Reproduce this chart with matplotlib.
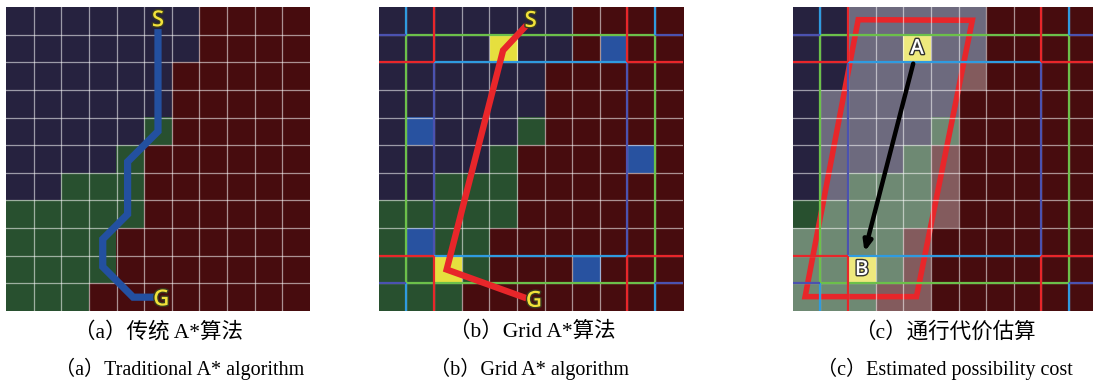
import numpy as np
import matplotlib.pyplot as plt
import matplotlib.patheffects as pe
from matplotlib.colors import to_rgb
from matplotlib.patches import Polygon, Rectangle

# cell maps, one string per row (top to bottom)
# n = free/low cost, r = obstacle, g = mid cost, b = jump point, y = start/end node
map_a = ["nnnnnnnrrrr",
         "nnnnnnnrrrr",
         "nnnnnnrrrrr",
         "nnnnnnrrrrr",
         "nnnnngrrrrr",
         "nnnngrrrrrr",
         "nngggrrrrrr",
         "gggggrrrrrr",
         "ggggrrrrrrr",
         "ggggrrrrrrr",
         "gggrrrrrrrr"]

map_b = ["nnnnnnnrrrr",
         "nnnnynnrbrr",
         "nnnnnnrrrrr",
         "nnnnnnrrrrr",
         "nbnnngrrrrr",
         "nnnngrrrrbr",
         "nngggrrrrrr",
         "gggggrrrrrr",
         "gbggrrrrrrr",
         "ggygrrrbrrr",
         "gggrrrrrrrr"]

map_c = ["nnnnnnnrrrr",
         "nnnnynnrrrr",
         "nnnnnnrrrrr",
         "nnnnnnrrrrr",
         "nnnnngrrrrr",
         "nnnngrrrrrr",
         "nngggrrrrrr",
         "gggggrrrrrr",
         "ggggrrrrrrr",
         "ggygrrrrrrr",
         "gggrrrrrrrr"]

# estimated-cost band in (c): (first row, last row, first col, last col)
band_rows = [(0, 2, 2, 6), (3, 7, 1, 5), (8, 10, 0, 4)]

# paths (x = column, y = row, in cell units)
path_a_x = [5.5, 5.5, 4.4, 4.4, 3.5, 3.5, 4.6, 5.4]
path_a_y = [0.8, 4.5, 5.6, 7.5, 8.4, 9.4, 10.5, 10.5]
path_b_x = [5.35, 4.5, 2.46, 5.35]
path_b_y = [0.66, 1.57, 9.5, 10.54]
para_x = [2.37, 6.5, 4.48, 0.45]
para_y = [0.46, 0.48, 10.48, 10.48]
arrow_from = (4.36, 2.05)
arrow_to = (2.6, 8.86)

cell_colors = {"n": "#26223f", "r": "#470c0e", "g": "#28502f",
               "b": "#2852a0", "y": "#e6df3e"}

captions_cn = ["（a）传统 A*算法", "（b）Grid A*算法", "（c）通行代价估算"]
captions_en = ["（a）Traditional A* algorithm", "（b）Grid A* algorithm",
               "（c）Estimated possibility cost"]

W, H = 1093, 383
fig = plt.figure(figsize=(W / 100, H / 100), dpi=100)

RED = "#e8262a"
GREEN = "#6cc04a"
LBLUE = "#2f9be0"
DBLUE = "#4b52b0"


def make_ax(x0):
    ax = fig.add_axes([x0 / W, (H - 311) / H, 304 / W, 304 / H])
    ax.set_xlim(0, 11)
    ax.set_ylim(11, 0)
    ax.axis("off")
    return ax


def draw_cells(ax, grid):
    img = np.array([[to_rgb(cell_colors[c]) for c in row] for row in grid])
    ax.imshow(img, extent=(0, 11, 11, 0), interpolation="nearest", aspect="auto")
    for k in range(1, 11):
        ax.axvline(k, color="white", alpha=0.55, lw=0.9)
        ax.axhline(k, color="white", alpha=0.55, lw=0.9)


def draw_frame(ax):
    lw = 1.6
    # outer boxes: green inside, blue beyond
    ax.plot([1, 10, 10, 1, 1], [1, 1, 10, 10, 1], color=GREEN, lw=lw)
    for v in (1, 10):
        ax.vlines([v, v], [0, 10], [1, 11], color=LBLUE, lw=lw)
        ax.hlines([v, v], [0, 10], [1, 11], color=DBLUE, lw=lw)
    # inner box: blue inside, red beyond
    ax.vlines([2, 9], 2, 9, color=DBLUE, lw=lw)
    ax.hlines([2, 9], 2, 9, color=LBLUE, lw=lw)
    for v in (2, 9):
        ax.vlines([v, v], [0, 9], [2, 11], color=RED, lw=lw)
        ax.hlines([v, v], [0, 9], [2, 11], color=RED, lw=lw)


def node_label(ax, x, y, s, face, edge, size):
    ax.text(x, y, s, color=face, fontsize=size, fontfamily="Open Sans",
            fontweight="semibold", ha="center", va="center",
            path_effects=[pe.withStroke(linewidth=2, foreground=edge)])


# (a) traditional A*
ax_a = make_ax(6)
draw_cells(ax_a, map_a)
ax_a.plot(path_a_x, path_a_y, color="#2350a0", lw=5.2, solid_joinstyle="miter",
          solid_capstyle="butt")
node_label(ax_a, 5.5, 0.5, "S", "#f2e23a", "#3a3a20", 16)
node_label(ax_a, 5.62, 10.6, "G", "#f2e23a", "#3a3a20", 16)

# (b) grid A*
ax_b = make_ax(378.7)
draw_cells(ax_b, map_b)
draw_frame(ax_b)
ax_b.plot(path_b_x, path_b_y, color=RED, lw=4.6, solid_joinstyle="miter",
          solid_capstyle="butt")
node_label(ax_b, 5.5, 0.52, "S", "#f2e23a", "#3a3a20", 16)
node_label(ax_b, 5.62, 10.65, "G", "#f2e23a", "#3a3a20", 16)

# (c) traversal cost estimate
ax_c = make_ax(792.7)
draw_cells(ax_c, map_c)
draw_frame(ax_c)
for r0, r1, c0, c1 in band_rows:
    ax_c.add_patch(Rectangle((c0, r0), c1 - c0 + 1, r1 - r0 + 1, facecolor="white",
                             alpha=0.33, edgecolor="none"))
ax_c.add_patch(Polygon(list(zip(para_x, para_y)), closed=True, fill=False,
                       edgecolor=RED, lw=4, joinstyle="miter"))
ax_c.annotate("", xy=arrow_to, xytext=arrow_from,
              arrowprops=dict(arrowstyle="-|>,head_length=0.6,head_width=0.25",
                              color="black", lw=3.2, shrinkA=0, shrinkB=0))
node_label(ax_c, 4.5, 1.5, "A", "white", "#303030", 15)
node_label(ax_c, 2.5, 9.5, "B", "white", "#303030", 15)

# captions
fonts = ["Liberation Serif", "Noto Sans CJK SC"]
for cx, cn, en_cx, en in zip([158, 532, 945], captions_cn, [180, 530, 945], captions_en):
    fig.text(cx / W, 1 - 332 / H, cn, ha="center", va="center", fontsize=15.5,
             family=fonts)
    fig.text(en_cx / W, 1 - 369 / H, en, ha="center", va="center", fontsize=14.5,
             family=fonts)

fig.savefig("out.png", dpi=100, facecolor="white")
